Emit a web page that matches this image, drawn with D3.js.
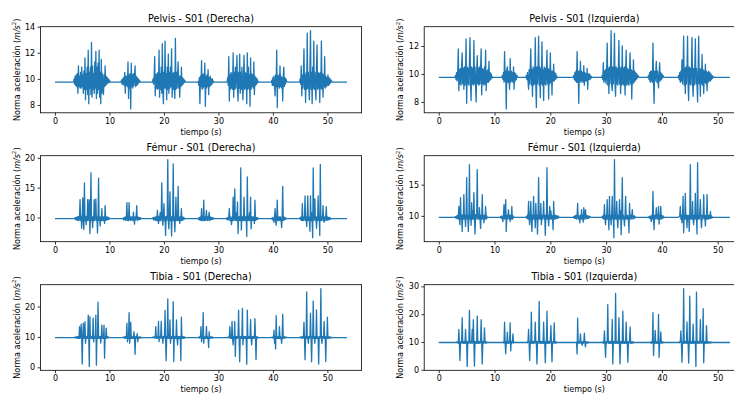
<!DOCTYPE html>
<html><head><meta charset="utf-8">
<script src="https://cdn.jsdelivr.net/npm/d3@7"></script>
<style>
html,body{margin:0;padding:0;background:#fff;overflow:hidden}
svg{display:block}
text{font-family:"DejaVu Sans",sans-serif;fill:#000}
</style></head>
<body><svg id="c" width="734" height="394"></svg>
<script>
// ---------------- DATA ----------------
const DT = 0.1;               // sampling step (s) of the burst samples
const xTicks = [0, 10, 20, 30, 40, 50];
const titles = ["Pelvis - S01 (Derecha)", "Pelvis - S01 (Izquierda)",
                "Fémur - S01 (Derecha)", "Fémur - S01 (Izquierda)",
                "Tibia - S01 (Derecha)", "Tibia - S01 (Izquierda)"];
const yTicksPD = [8, 10, 12, 14];
const yTicksPI = [8, 10, 12];
const yTicksFD = [10, 15, 20];
const yTicksFI = [10, 15];
const yTicksTD = [0, 10, 20];
const yTicksTI = [0, 10, 20, 30];
const tEndDer = 53.6, tEndIzq = 52.2;
const basePD = 9.75, basePI = 9.75, baseFD = 9.8, baseFI = 9.75, baseTD = 9.8, baseTI = 9.8;

const pelvisDer = [
 [3.5, [10.0,9.6,10.2,9.5,10.3,9.4,10.4,8.9,11.0,9.4, 10.2,9.3,10.5,9.3,10.9,9.4,10.3,8.9,10.6,9.2, 11.6,8.4,10.4,9.2,10.9,8.8,12.2,8.1,10.5,9.3,
        10.9,8.8,12.8,8.6,11.0,9.2,10.4,8.9,11.3,9.3, 12.1,8.5,10.9,8.9,11.2,9.2,12.2,8.6,10.5,8.1, 11.5,8.9,10.4,9.3,8.8,10.3,9.4,11.0,9.5,10.2,
        9.6,10.1,9.7,10.0,9.7,9.9]],
 [12.2,[9.9,9.6,10.0,9.6,10.1,9.5,10.5,8.9,10.2,9.5, 10.2,9.4,11.3,8.5,10.3,9.3,10.4,7.7,11.2,9.4, 10.3,9.3,10.4,9.5,10.2,11.0,9.4,10.2,9.5,10.1, 9.6,10.0,9.7,9.9,9.8]],
 [18.0,[10.0,9.6,10.2,11.7,8.7,10.3,9.3,10.4,9.2,10.5, 9.3,12.2,8.6,10.4,9.2,10.9,8.9,12.7,9.2,8.1, 10.5,9.3,12.9,9.3,10.4,8.4,10.9,9.2,11.9,8.9,
        10.5,9.3,10.9,9.4,12.3,8.6,10.4,9.2,10.5,9.3, 8.5,13.1,9.2,10.5,9.3,10.3,11.3,9.3,10.2,8.6, 10.2,9.4,10.9,9.5,10.1,9.6,10.0,9.7,9.9,9.8]],
 [26.3,[9.8,9.5,10.1,8.1,10.2,9.4,11.4,9.2,10.3,9.3, 10.4,9.4,11.2,7.9,10.2,9.3,10.3,9.4,10.7,8.8, 10.1,9.4,10.2,9.5,10.0,9.6,10.0,9.7,9.8]],
 [31.7,[10.1,9.5,11.7,8.3,10.3,9.2,10.5,9.3,10.4,9.2, 12.0,8.6,10.5,9.2,10.9,9.3,10.4,11.8,9.2,8.3, 10.5,9.3,11.9,8.9,10.5,9.2,10.9,9.3,8.4,10.4,
        11.8,9.2,10.5,9.3,10.4,8.1,12.0,9.2,10.9,9.3, 10.3,7.9,11.6,9.2,10.4,9.4,10.3,9.3,11.3,8.8, 10.2,9.5,10.1,9.6,10.0,9.7,9.8]],
 [39.8,[9.9,9.5,10.1,9.5,10.2,9.4,8.7,10.3,9.4,12.2, 7.8,10.2,9.4,10.3,9.3,11.0,9.4,10.2,9.3,10.1, 8.3,10.2,10.9,9.4,10.1,9.6,10.0,9.8]],
 [45.0,[10.0,9.6,11.0,8.7,10.3,9.3,10.4,12.3,9.2,10.3, 8.2,10.5,9.2,13.5,9.3,10.5,9.2,8.4,10.9,13.7, 9.2,10.5,8.1,10.9,9.3,12.9,9.2,10.5,9.3,8.4,
        10.9,12.6,9.2,10.5,9.3,10.4,8.2,10.5,9.3,12.9, 9.2,10.4,8.6,10.3,9.4,11.7,9.3,10.2,9.4,10.1, 9.5,10.3,9.5,10.1,9.6,10.0,9.7,9.9,9.8]]
];
const pelvisIzq = [
 [3.0, [9.9,9.6,10.1,9.5,10.2,11.8,8.8,10.3,9.3,10.4, 9.2,10.5,11.5,9.3,10.4,8.9,10.5,9.2,10.4,12.5, 7.9,10.5,9.3,10.4,9.2,10.9,12.6,9.2,8.1,10.5,
        9.3,10.4,9.2,12.4,9.3,10.5,9.2,8.0,10.3,11.3, 9.3,10.4,9.2,10.5,9.3,10.3,11.8,8.5,10.4,9.3, 10.3,9.2,10.5,9.3,11.7,8.8,10.2,9.4,10.3,9.4,
        10.9,9.5,10.1,9.6,10.0,9.7,9.8]],
 [11.4,[9.9,9.6,10.1,9.4,11.6,9.5,10.2,7.5,10.3,10.5, 9.4,10.2,9.5,8.9,11.1,9.4,10.2,9.5,10.1,9.4, 10.5,8.9,10.1,9.5,10.0,9.6,9.9,9.8]],
 [15.7,[9.9,9.6,10.1,9.5,8.9,10.3,9.3,10.4,11.8,9.2, 10.3,8.4,10.5,9.2,10.4,9.3,12.6,9.2,7.6,10.5, 9.3,10.4,12.7,9.2,10.5,8.3,10.4,9.3,12.3,9.2,
        10.3,8.1,10.5,9.3,10.4,9.2,10.3,11.7,9.3,10.4, 8.2,10.3,9.3,11.5,9.4,10.2,8.5,10.2,9.5,10.7, 9.5,10.1,9.6,10.0,9.7,9.8]],
 [24.2,[9.9,9.6,10.1,9.5,10.2,9.4,11.6,9.4,10.2,7.9, 10.2,9.5,10.9,9.4,10.2,9.5,10.1,9.4,10.6,9.2, 10.1,9.5,10.0,9.5,10.4,8.9,10.0,9.6,10.0,9.6, 9.9,9.7,9.8,9.75]],
 [29.3,[9.9,9.6,10.8,9.4,10.2,9.5,10.3,9.3,10.4,12.2, 9.2,10.4,8.6,10.5,9.3,10.3,13.1,9.2,8.8,10.5, 9.3,10.4,12.9,9.2,8.4,10.5,9.3,10.4,9.2,10.5,
        12.4,9.3,10.4,8.6,10.5,9.2,12.0,9.3,10.4,9.2, 10.5,8.5,10.3,11.7,9.2,10.4,9.3,10.3,9.2,10.4, 11.5,9.3,10.3,8.2,10.2,9.3,11.0,9.4,10.2,9.5,
        10.1,9.6,10.0,9.7,9.9,9.8]],
 [37.6,[9.9,9.6,10.1,9.4,10.2,9.5,10.2,9.4,12.2,9.5, 7.9,10.2,9.5,10.1,10.9,9.4,10.2,9.5,9.0,10.1, 10.8,9.5,10.1,9.6,10.0,9.7,9.9,9.8]],
 [43.0,[9.9,9.6,10.1,9.4,10.2,9.5,11.0,9.3,10.3,12.7, 9.2,10.4,8.6,10.5,9.3,10.4,12.7,9.2,8.1,10.5, 9.3,10.4,9.2,10.5,12.6,9.3,8.4,10.4,9.2,10.5,
        12.5,9.3,10.4,9.2,8.0,10.5,12.7,9.3,10.3,8.4, 10.4,9.3,11.4,9.2,10.3,8.6,10.2,9.4,10.7,9.3, 10.2,8.8,10.1,9.4,10.2,9.5,10.1,9.5,10.0,9.6,
        9.9,9.7,9.8,9.75]]
];
const femurDer = [
 [3.7, [10.0,9.6,10.0,9.6,10.1,9.5,10.2,9.5,10.1,13.0, 9.5,10.2,8.2,10.2,13.3,9.5,8.0,15.8,9.5,10.2, 8.8,10.2,9.5,13.0,9.5,10.1,13.0,7.3,10.1,17.5,
        9.5,10.1,8.3,10.2,9.5,13.0,9.5,10.1,13.1,9.5, 10.1,7.4,10.2,16.6,9.5,10.1,8.6,10.1,9.5,11.5, 9.5,10.1,9.5,10.1,9.0,12.0,9.5,10.1,9.6,10.1,
        9.6,10.0,9.7,9.9,9.8]],
 [12.5,[9.9,9.6,10.0,9.6,10.1,9.5,10.1,12.5,9.5,10.1, 9.5,12.5,9.6,10.1,9.5,10.1,9.6,10.1,9.5,10.9, 9.5,8.9,10.1,9.6,10.1,12.0,9.5,10.1,9.6,10.0, 9.7,10.0,9.7,9.9,9.8]],
 [18.0,[10.0,9.6,10.0,9.6,10.1,9.5,10.1,9.5,11.2,9.5, 9.0,10.2,9.5,10.8,9.5,10.2,15.8,9.5,8.7,10.2, 12.3,9.5,10.1,7.0,10.2,9.5,10.1,19.7,9.5,8.1,
        10.2,14.3,9.5,10.1,6.9,10.2,9.5,19.0,9.5,10.1, 7.6,10.2,13.4,9.5,10.1,9.5,15.2,9.5,10.1,9.0, 10.1,9.5,11.5,9.5,10.1,9.6,10.0,9.7,9.9,9.8]],
 [26.3,[9.9,9.6,10.0,9.6,10.1,9.5,11.5,9.5,10.1,9.5, 12.9,9.5,10.1,9.5,10.1,11.2,9.5,10.1,9.5,10.1, 10.9,9.5,10.1,9.6,10.0,9.7,10.0,9.7,9.9]],
 [31.5,[9.9,9.6,10.0,9.6,10.1,11.5,9.5,10.1,9.5,8.8, 10.1,9.5,13.4,9.5,10.1,14.8,9.5,10.8,9.5,10.1, 12.6,7.3,10.1,9.5,10.2,9.5,18.3,7.9,10.2,9.5,
        10.1,9.5,13.4,9.5,10.1,9.5,10.2,6.8,16.8,9.5, 10.1,9.5,10.8,9.5,13.4,8.1,10.1,9.5,10.1,9.5, 10.1,9.0,12.9,9.5,10.0,9.6,10.0,9.7,9.9]],
 [39.8,[9.9,9.6,10.0,9.6,9.2,10.1,11.5,9.5,8.7,10.1, 12.9,9.5,10.1,9.5,10.1,9.5,10.1,9.5,8.3,10.1, 15.2,9.5,10.1,9.6,10.0,9.7,9.9,9.8]],
 [45.0,[10.0,9.6,10.1,9.5,12.3,9.5,10.1,9.5,10.1,13.6, 9.5,10.1,8.5,10.2,13.6,9.5,10.1,9.5,7.7,13.6, 9.5,10.8,9.5,6.6,18.3,9.5,10.1,13.1,9.5,10.1,
        8.2,10.1,9.5,13.6,9.5,10.1,7.0,18.9,9.5,10.1, 9.5,10.1,12.0,9.5,9.2,10.1,9.5,10.1,11.8,9.5, 10.1,9.6,10.0,9.6,10.0,9.7,9.9,9.8,9.8]]
];
const femurIzq = [
 [3.0, [9.9,9.6,10.0,9.6,10.1,9.5,11.5,9.5,8.6,12.9, 9.5,10.1,7.5,10.2,9.5,13.4,9.5,10.1,8.3,10.2, 16.1,9.5,10.1,7.5,10.2,18.2,9.5,10.1,8.5,12.1,
        9.5,10.8,9.5,13.7,9.5,7.1,10.2,9.5,10.1,17.4, 9.5,10.1,9.5,11.3,9.5,8.0,10.1,9.5,13.4,9.5, 10.1,8.9,10.1,9.5,11.5,9.5,10.0,9.7]],
 [11.1,[9.9,9.6,10.0,9.6,9.1,10.1,11.8,9.5,10.1,12.6, 7.5,10.1,9.5,10.1,11.0,9.5,10.1,9.1,10.1,9.5, 11.5,9.5,10.0,9.7,9.8]],
 [15.7,[9.9,9.6,10.1,9.5,12.3,9.5,8.6,10.1,12.3,9.5, 7.5,10.1,9.5,13.1,9.5,10.1,8.1,12.0,9.5,10.1, 7.1,10.2,16.1,9.5,10.1,9.5,12.0,8.6,10.1,9.5,
        10.1,12.3,9.5,10.1,6.9,10.2,9.5,17.7,9.5,10.1, 8.4,10.1,11.5,9.5,10.8,9.5,10.1,9.5,7.8,12.3, 9.5,10.1,9.5,10.1,9.6,10.0,9.6,10.0,9.7,9.8]],
 [24.2,[9.9,9.6,10.0,9.6,10.1,9.5,10.1,12.0,9.5,10.1, 9.5,8.9,10.1,9.5,11.0,9.5,10.1,9.0,11.3,9.5, 10.1,11.0,9.5,10.1,9.6,10.0,9.6,10.0,9.7,9.9,9.8]],
 [29.3,[9.9,9.6,10.1,9.5,11.8,9.5,8.6,10.1,9.5,12.6, 9.5,10.1,7.8,13.1,9.5,10.1,8.6,10.2,13.1,9.5, 10.1,6.5,19.0,9.5,10.1,9.5,12.3,9.5,8.1,10.1,
        9.5,12.6,9.5,10.8,7.0,10.2,16.1,9.5,10.1,9.5, 8.4,10.1,13.1,9.5,10.1,9.5,10.1,9.5,7.3,12.0, 9.5,10.1,9.5,10.1,11.0,9.5,10.0,9.6,10.0,9.7,9.8]],
 [37.7,[9.9,9.6,10.0,9.6,9.1,10.1,9.5,13.9,9.5,7.8, 10.1,9.5,10.1,11.3,9.5,10.1,9.5,11.5,8.7,10.1, 9.5,11.5,9.5,10.1,9.6,10.0,9.7,9.8]],
 [43.1,[9.9,10.0,11.5,9.5,10.1,8.9,10.1,13.1,7.3,10.1, 9.5,13.6,9.5,10.1,8.1,10.1,9.5,10.1,7.5,10.2, 18.2,9.5,10.1,9.5,12.3,9.5,8.6,10.1,9.5,13.6,
        9.5,10.1,7.1,18.5,9.5,10.1,9.5,10.8,12.6,9.5, 8.1,10.1,9.5,10.1,13.4,9.5,10.1,8.4,10.1,9.5, 13.4,9.5,10.1,9.5,10.1,9.6,10.7,9.6,10.0,9.7,9.8]]
];
const tibiaDer = [
 [3.7, [10.0,9.7,10.0,9.6,10.1,9.5,10.2,9.5,13.4,9.5, 10.1,14.2,9.5,1.1,10.2,14.5,9.5,10.1,15.0,7.9, 10.2,9.5,10.2,9.5,17.2,9.5,0.3,16.7,9.5,10.2,
        9.5,10.2,9.5,16.2,8.4,10.2,9.5,10.2,17.2,0.7, 10.1,9.5,21.4,9.5,10.2,9.5,10.1,8.0,10.2,13.9, 9.5,10.1,9.5,13.8,3.0,10.1,9.6,12.9,9.5,10.1,
        9.7,10.0]],
 [12.5,[9.9,9.7,10.0,9.6,10.1,9.5,10.1,14.5,8.4,10.1, 9.5,18.0,7.9,10.1,14.9,9.5,10.1,9.5,10.1,9.5, 11.7,9.5,4.3,10.1,9.5,10.1,11.1,8.4,10.0,9.6, 10.0,9.6,10.0,9.7,9.8]],
 [18.0,[10.0,9.7,10.0,9.6,10.1,13.4,9.5,10.1,9.5,10.2, 15.1,8.4,10.1,9.5,10.2,15.1,9.5,10.1,7.9,10.2, 9.5,10.2,18.7,9.5,2.2,10.2,9.5,22.5,9.5,10.2,
        9.5,15.6,7.9,10.2,9.5,10.2,9.5,21.6,1.9,10.2, 9.5,10.1,9.5,15.6,9.5,7.4,10.2,9.5,10.1,9.5, 10.2,2.2,16.5,9.5,10.1,9.5,10.1,9.6,10.0,9.7]],
 [26.3,[9.9,9.7,10.0,9.6,10.1,13.4,8.4,10.1,9.5,18.0, 7.9,10.1,9.5,10.1,9.5,13.4,9.5,10.1,9.5,6.5, 11.7,9.5,10.1,9.6,10.0,9.6,10.0,9.7,9.8]],
 [31.8,[10.0,9.7,10.0,13.4,9.5,10.1,9.5,15.1,9.5,7.4, 10.1,9.5,15.1,3.6,10.2,9.5,10.1,9.5,10.2,18.8, 9.5,1.8,10.2,9.5,10.1,9.5,19.4,7.4,10.2,9.5,
        10.1,9.5,10.2,9.5,1.0,18.8,9.5,10.1,9.5,10.2, 9.5,15.7,9.5,7.4,10.1,9.5,10.2,9.5,10.1,16.0, 9.5,2.6,10.1,9.6,10.0,9.7]],
 [39.8,[9.9,9.7,10.0,9.6,12.2,7.9,10.1,6.0,17.0,9.5, 10.1,9.5,10.1,9.5,13.4,9.5,10.1,9.5,7.9,10.1, 17.5,9.5,10.1,9.6,10.0,9.7,10.0,9.8]],
 [45.0,[10.0,9.7,10.0,9.6,10.1,9.5,10.2,14.9,9.5,2.5, 10.2,9.5,24.8,9.5,10.1,7.9,10.2,9.5,10.2,17.7, 9.5,1.8,10.2,9.5,21.8,9.5,10.1,7.9,10.2,9.5,
        18.9,9.5,10.1,9.5,1.1,10.2,9.5,10.1,25.9,9.5, 7.9,10.2,9.5,10.1,15.1,9.5,10.1,1.9,10.1,9.5, 16.5,9.5,10.1,9.6,10.0,9.6,10.0,9.7,9.8]]
];
const tibiaIzq = [
 [3.2, [10.0,9.7,10.1,9.5,14.5,9.5,3.3,10.1,9.5,10.2, 18.7,9.5,10.2,9.5,10.2,9.5,14.5,9.5,10.2,1.2, 10.1,9.5,10.2,21.4,9.5,10.2,9.5,10.2,14.5,9.5,
        18.0,9.5,1.3,10.2,9.5,10.2,9.5,19.3,9.5,10.2, 9.5,10.2,9.5,10.2,18.0,9.5,2.1,10.2,9.5,10.1, 15.1,9.5,10.1,9.6,10.0,9.7]],
 [11.4,[9.9,9.7,10.0,9.6,17.1,9.5,5.8,10.1,9.5,13.5, 9.5,10.1,9.5,10.1,16.9,6.8,10.1,9.5,10.1,12.9, 9.6,10.0]],
 [15.8,[10.0,9.7,10.1,14.5,9.5,3.3,10.1,9.5,20.7,9.5, 10.2,9.5,10.2,9.5,10.2,17.1,9.5,10.2,2.1,10.2, 9.5,10.2,24.6,9.5,10.2,9.5,10.2,9.5,10.2,9.5,
        17.1,9.5,10.2,2.5,10.1,9.5,21.1,9.5,10.2,9.5, 10.2,9.5,10.2,15.9,9.5,2.9,10.1,9.5,10.2,16.9, 9.5,10.1,9.6,10.0,9.7]],
 [24.6,[9.9,9.6,5.7,18.6,9.5,10.1,9.6,10.1,12.9,9.5, 10.1,8.8,10.1,9.5,10.1,13.2,9.6,8.2,10.1,9.6, 10.0,9.6,10.0,9.7,9.8]],
 [29.3,[10.0,9.7,10.1,9.5,14.0,9.5,4.5,10.1,9.5,10.2, 23.4,9.5,10.2,9.5,10.2,9.5,10.2,9.5,18.1,2.1, 10.2,9.5,10.2,9.5,27.5,9.5,10.2,9.5,10.2,9.5,
        18.7,9.5,2.1,10.2,9.5,10.2,9.5,21.1,9.5,10.2, 9.5,10.2,9.5,17.1,9.5,10.2,2.7,10.1,9.5,10.2, 15.4,9.5,10.1,9.5,10.1,9.6,10.0,9.7]],
 [37.9,[9.9,9.6,10.1,9.5,10.1,20.5,5.1,10.1,9.5,14.2, 9.5,10.1,9.5,10.1,9.5,19.9,4.5,10.1,9.5,13.6, 9.6,10.1,9.6,10.0,9.7,9.8]],
 [43.1,[10.0,9.7,10.1,14.0,9.5,2.7,10.1,9.5,29.2,9.5, 10.2,9.6,10.2,9.5,17.2,9.5,10.2,2.4,10.1,26.5, 9.5,10.2,9.5,10.2,9.5,16.4,9.5,10.2,9.5,10.2,
        1.2,27.9,9.5,10.2,9.5,10.2,9.5,10.2,18.0,9.5, 10.2,9.5,10.2,22.0,2.5,10.2,9.5,10.1,9.5,15.9, 9.5,10.1,9.6,10.1,9.6,10.0,9.6,10.0,9.7,9.9,9.8]]
];

// ---------------- LAYOUT ----------------
const colX = [[40.4, 361.6], [424.2, 744.5]];
const rowY = [[26.7, 112.8], [155.7, 241.7], [284.7, 370.3]];
const panels = [
  {bursts: pelvisDer, base: basePD, tEnd: tEndDer, yt: yTicksPD, r: 0, c: 0},
  {bursts: pelvisIzq, base: basePI, tEnd: tEndIzq, yt: yTicksPI, r: 0, c: 1},
  {bursts: femurDer,  base: baseFD, tEnd: tEndDer, yt: yTicksFD, r: 1, c: 0},
  {bursts: femurIzq,  base: baseFI, tEnd: tEndIzq, yt: yTicksFI, r: 1, c: 1},
  {bursts: tibiaDer,  base: baseTD, tEnd: tEndDer, yt: yTicksTD, r: 2, c: 0},
  {bursts: tibiaIzq,  base: baseTI, tEnd: tEndIzq, yt: yTicksTI, r: 2, c: 1}
];

function buildSeries(bursts, base, tEnd) {
  const pts = [[0, base]];
  bursts.forEach(([t0, vals]) => {
    pts.push([t0 - DT, base]);
    vals.forEach((v, i) => pts.push([t0 + i * DT, v]));
    pts.push([t0 + vals.length * DT, base]);
  });
  pts.push([tEnd, base]);
  return pts;
}
function padded(ext) { const m = (ext[1] - ext[0]) * 0.05; return [ext[0] - m, ext[1] + m]; }

const svg = d3.select("#c");
const FS = 8;
panels.forEach((p, k) => {
  const [x0, x1] = colX[p.c], [y0, y1] = rowY[p.r];
  const data = buildSeries(p.bursts, p.base, p.tEnd);
  const x = d3.scaleLinear().domain(padded(d3.extent(data, d => d[0]))).range([x0, x1]);
  const y = d3.scaleLinear().domain(padded(d3.extent(data, d => d[1]))).range([y1, y0]);
  const g = svg.append("g");

  g.append("path").datum(data)
    .attr("fill", "none").attr("stroke", "#1f77b4").attr("stroke-width", 1.3)
    .attr("stroke-linejoin", "round")
    .attr("d", d3.line().x(d => x(d[0])).y(d => y(d[1])));

  g.append("rect").attr("x", x0).attr("y", y0).attr("width", x1 - x0).attr("height", y1 - y0)
    .attr("fill", "none").attr("stroke", "#000").attr("stroke-width", 0.8);

  const ax = g.append("g").attr("transform", `translate(0,${y1})`)
    .call(d3.axisBottom(x).tickValues(xTicks).tickSize(2.8).tickPadding(2.4).tickFormat(d3.format("d")));
  const ay = g.append("g").attr("transform", `translate(${x0},0)`)
    .call(d3.axisLeft(y).tickValues(p.yt).tickSize(2.8).tickPadding(2.4).tickFormat(d3.format("d")));
  [ax, ay].forEach(a => {
    a.select(".domain").remove();
    a.selectAll("line").attr("stroke", "#000").attr("stroke-width", 0.8);
    a.selectAll("text").attr("font-size", FS).attr("font-family", "DejaVu Sans").attr("fill", "#000");
  });

  g.append("text").attr("x", (x0 + x1) / 2).attr("y", y0 - 5)
    .attr("text-anchor", "middle").attr("font-size", 9.6).text(titles[k]);

  g.append("text").attr("x", (x0 + x1) / 2).attr("y", y1 + 22)
    .attr("text-anchor", "middle").attr("font-size", FS).text("tiempo (s)");

  const lx = p.c === 0 ? 19.5 : 403, ly = (y0 + y1) / 2;
  const yl = g.append("text").attr("transform", `translate(${lx},${ly}) rotate(-90)`)
    .attr("text-anchor", "middle").attr("font-size", FS);
  yl.append("tspan").text("Norma aceleración (");
  yl.append("tspan").attr("font-style", "italic").text("m/s");
  yl.append("tspan").attr("font-size", 5.6).attr("dy", -3.2).text("2");
  yl.append("tspan").attr("dy", 3.2).text(")");
});
</script></body></html>
